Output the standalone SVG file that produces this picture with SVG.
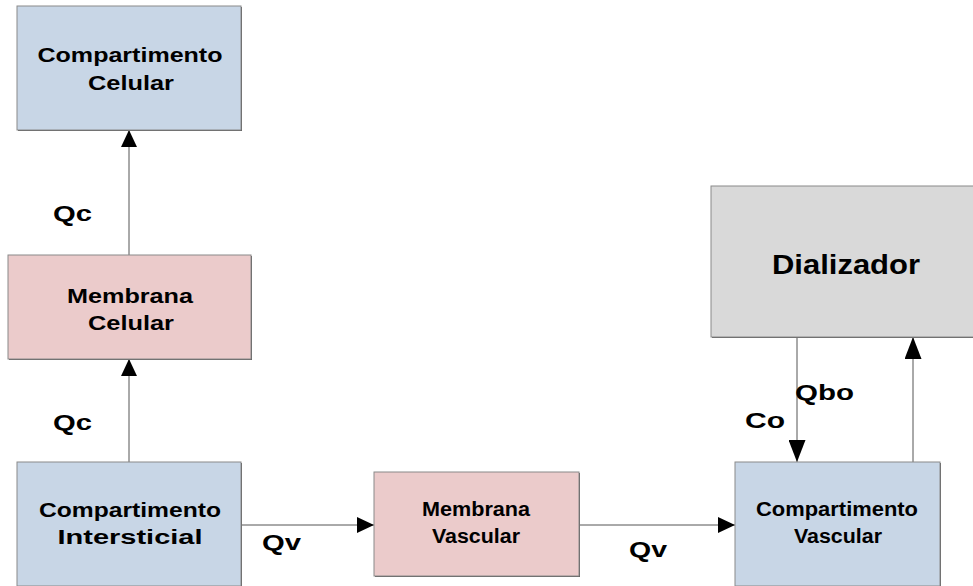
<svg xmlns="http://www.w3.org/2000/svg" width="973" height="586" viewBox="0 0 973 586">
  <style>
    .box { stroke: #8a8a8a; stroke-width: 1; }
    .shadow { fill: #5a5a5a; }
    .blue { fill: #c8d6e6; }
    .pink { fill: #ebcbcb; }
    .gray { fill: #d9d9d9; }
    .t { font-family: "Liberation Sans", Arial, sans-serif; font-weight: bold; font-size: 20px; fill: #000; text-anchor: middle; }
    .big { font-size: 27px; }
    .lbl { font-family: "Liberation Sans", Arial, sans-serif; font-weight: bold; font-size: 22px; fill: #000; }
    .edge { stroke: #555; stroke-width: 1; fill: none; }
  </style>
  <defs>
    <marker id="arr" viewBox="0 0 17 16" refX="17" refY="8" markerWidth="17" markerHeight="16" markerUnits="userSpaceOnUse" orient="auto">
      <path d="M0,0 L17,8 L0,16 Z" fill="#000"/>
    </marker>
    <marker id="arrLong" viewBox="0 0 22 17" refX="22" refY="8.5" markerWidth="22" markerHeight="17" markerUnits="userSpaceOnUse" orient="auto">
      <path d="M0,0 L22,8.5 L0,17 Z" fill="#000"/>
    </marker>
  </defs>

  <rect width="973" height="586" fill="#fff"/>

  <!-- connectors -->
  <g id="connectors">
    <line class="edge" x1="129" y1="255" x2="129" y2="130" marker-end="url(#arr)"/>
    <line class="edge" x1="129" y1="462" x2="129" y2="359" marker-end="url(#arr)"/>
    <line class="edge" x1="241" y1="525" x2="374" y2="525" marker-end="url(#arr)"/>
    <line class="edge" x1="579" y1="525" x2="735" y2="525" marker-end="url(#arr)"/>
    <line class="edge" x1="797" y1="337" x2="797" y2="462" marker-end="url(#arrLong)"/>
    <line class="edge" x1="913" y1="462" x2="913" y2="337" marker-end="url(#arrLong)"/>
  </g>

  <!-- flow labels -->
  <g id="labels">
    <text class="lbl" x="53" y="221" textLength="39" lengthAdjust="spacingAndGlyphs">Qc</text>
    <text class="lbl" x="53" y="430" textLength="39" lengthAdjust="spacingAndGlyphs">Qc</text>
    <text class="lbl" x="262" y="550" textLength="39" lengthAdjust="spacingAndGlyphs">Qv</text>
    <text class="lbl" x="629" y="557" textLength="38" lengthAdjust="spacingAndGlyphs">Qv</text>
    <text class="lbl" x="745" y="428" textLength="40" lengthAdjust="spacingAndGlyphs">Co</text>
    <text class="lbl" x="795" y="400" textLength="59" lengthAdjust="spacingAndGlyphs">Qbo</text>
  </g>

  <g id="compartimento-celular">
    <rect class="shadow" x="18" y="7" width="224" height="124"/>
    <rect class="box blue" x="17" y="6" width="224" height="124"/>
    <text class="t" x="130" y="62" textLength="185" lengthAdjust="spacingAndGlyphs">Compartimento</text>
    <text class="t" x="131" y="90" textLength="86" lengthAdjust="spacingAndGlyphs">Celular</text>
  </g>

  <g id="membrana-celular">
    <rect class="shadow" x="9" y="256" width="243" height="104"/>
    <rect class="box pink" x="8" y="255" width="243" height="104"/>
    <text class="t" x="130" y="303" textLength="126" lengthAdjust="spacingAndGlyphs">Membrana</text>
    <text class="t" x="131" y="330" textLength="86" lengthAdjust="spacingAndGlyphs">Celular</text>
  </g>

  <g id="compartimento-intersticial">
    <rect class="shadow" x="18" y="463" width="224" height="124"/>
    <rect class="box blue" x="17" y="462" width="224" height="124"/>
    <text class="t" x="130" y="517" textLength="182" lengthAdjust="spacingAndGlyphs">Compartimento</text>
    <text class="t" x="130" y="544" textLength="145" lengthAdjust="spacingAndGlyphs">Intersticial</text>
  </g>

  <g id="membrana-vascular">
    <rect class="shadow" x="375" y="473" width="205" height="104"/>
    <rect class="box pink" x="374" y="472" width="205" height="104"/>
    <text class="t" x="476" y="516" textLength="108" lengthAdjust="spacingAndGlyphs">Membrana</text>
    <text class="t" x="476" y="543" textLength="88" lengthAdjust="spacingAndGlyphs">Vascular</text>
  </g>

  <g id="compartimento-vascular">
    <rect class="shadow" x="736" y="463" width="205" height="124"/>
    <rect class="box blue" x="735" y="462" width="205" height="124"/>
    <text class="t" x="837" y="516" textLength="162" lengthAdjust="spacingAndGlyphs">Compartimento</text>
    <text class="t" x="838" y="543" textLength="88" lengthAdjust="spacingAndGlyphs">Vascular</text>
  </g>

  <g id="dializador">
    <rect class="shadow" x="712" y="187" width="270" height="151"/>
    <rect class="box gray" x="711" y="186" width="270" height="151"/>
    <text class="t big" x="846" y="274" textLength="148" lengthAdjust="spacingAndGlyphs">Dializador</text>
  </g>
</svg>
